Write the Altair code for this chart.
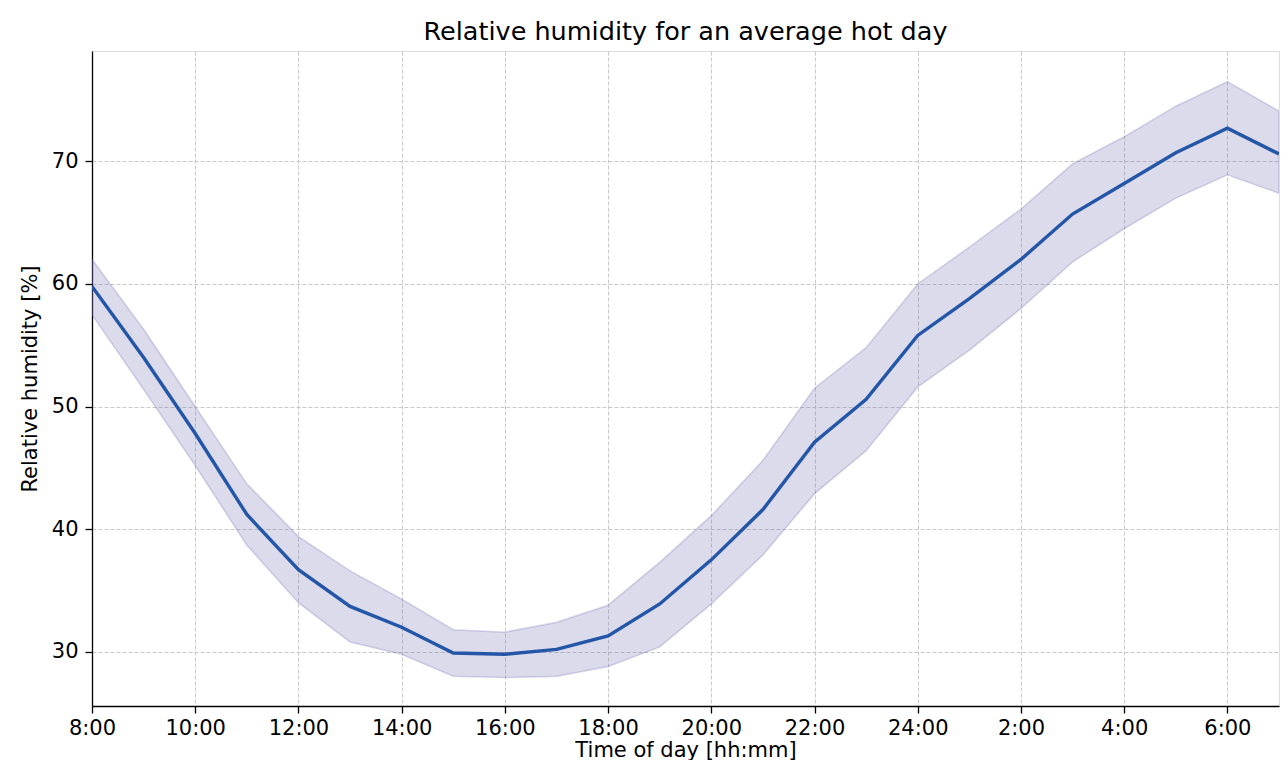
import altair as alt
import pandas as pd

hours = list(range(8, 32))
mean_rh = [59.8, 54.0, 47.8, 41.2, 36.7, 33.7, 32.0, 29.9, 29.8, 30.2, 31.3, 33.9,
           37.5, 41.6, 47.1, 50.6, 55.8, 58.8, 62.0, 65.7, 68.2, 70.7, 72.7, 70.6]
upper_rh = [62.0, 56.3, 50.0, 43.7, 39.4, 36.6, 34.3, 31.8, 31.6, 32.4, 33.8, 37.3,
            41.1, 45.6, 51.5, 54.8, 60.0, 63.0, 66.1, 69.8, 72.0, 74.5, 76.5, 74.1]
lower_rh = [57.5, 51.4, 45.2, 38.7, 34.0, 30.8, 29.8, 28.0, 27.9, 28.0, 28.8, 30.4,
            33.9, 37.9, 42.9, 46.4, 51.6, 54.6, 58.0, 61.8, 64.5, 67.0, 68.9, 67.4]
x_ticks = list(range(8, 31, 2))
y_ticks = [30, 40, 50, 60, 70]

df = pd.DataFrame({"hour": hours, "mean": mean_rh, "upper": upper_rh, "lower": lower_rh})

FONT = "DejaVu Sans"

xscale = alt.Scale(domain=[8, 31], nice=False, zero=False)
yscale = alt.Scale(domain=[25.58, 79.0], nice=False, zero=False)

xaxis = alt.Axis(
    values=x_ticks,
    labelExpr="datum.value <= 24 ? datum.value + ':00' : (datum.value - 24) + ':00'",
    title="Time of day [hh:mm]",
    grid=True, gridDash=[4, 2], gridColor="#c8c8c8", gridWidth=1,
    tickSize=7, tickColor="black", tickWidth=1.3,
    domainColor="black", domainWidth=1.3,
    labelFont=FONT, labelFontSize=21, labelColor="black", labelPadding=4,
    titleFont=FONT, titleFontSize=21, titleFontWeight="normal", titleColor="black",
    titlePadding=1, labelFlush=False, labelOverlap=False,
)
yaxis = alt.Axis(
    values=y_ticks,
    title="Relative humidity [%]",
    grid=True, gridDash=[4, 2], gridColor="#c8c8c8", gridWidth=1,
    tickSize=7, tickColor="black", tickWidth=1.3,
    domainColor="black", domainWidth=1.3,
    labelFont=FONT, labelFontSize=21, labelColor="black", labelPadding=7,
    titleFont=FONT, titleFontSize=21, titleFontWeight="normal", titleColor="black",
    titlePadding=11, labelFlush=False, labelOverlap=False,
)

base = alt.Chart(df)

band = base.mark_area(
    color="#7570b3", fillOpacity=0.25, stroke="#7570b3", strokeOpacity=0.28, strokeWidth=1.6,
    clip=True,
).encode(
    x=alt.X("hour:Q", scale=xscale, axis=xaxis),
    y=alt.Y("lower:Q", scale=yscale, axis=yaxis),
    y2="upper:Q",
)

line = base.mark_line(color="#2356a6", strokeWidth=3.4, clip=True).encode(
    x=alt.X("hour:Q", scale=xscale),
    y=alt.Y("mean:Q", scale=yscale),
)

chart = alt.layer(band, line).properties(
    width=1187,
    height=655,
    title=alt.TitleParams(
        "Relative humidity for an average hot day",
        font=FONT, fontSize=25.5, fontWeight="normal", color="black", offset=6, anchor="middle",
    ),
    autosize=alt.AutoSizeParams(type="none"),
    padding={"left": 84, "top": 43, "right": 1, "bottom": 54},
).configure_view(stroke="black", strokeWidth=1.3).configure(background="white")

chart.save("out.html", embed_options={"renderer": "svg", "actions": False})
